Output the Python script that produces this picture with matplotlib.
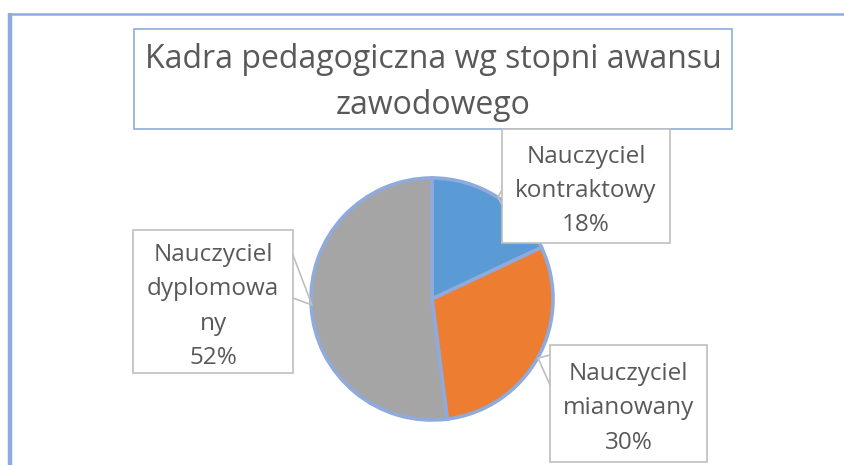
import matplotlib
matplotlib.use("Agg")
import matplotlib.pyplot as plt
from matplotlib.patches import Rectangle

categories = ["Nauczyciel kontraktowy", "Nauczyciel mianowany", "Nauczyciel dyplomowany"]
values = [18, 30, 52]
label_texts = ["Nauczyciel\nkontraktowy", "Nauczyciel\nmianowany", "Nauczyciel\ndyplomowa\nny"]
colors = ["#5B9BD5", "#ED7D31", "#A5A5A5"]
title = "Kadra pedagogiczna wg stopni awansu\nzawodowego"

W, H = 845, 465
fig = plt.figure(figsize=(W / 100, H / 100), dpi=100)
ax = fig.add_axes([0, 0, 1, 1])

FONT = ["Open Sans", "DejaVu Sans"]
TXT = "#595959"
BLUE = "#8FAADC"

# pie (y-axis inverted -> counterclock=True draws clockwise on screen)
cx, cy, r = 432, 299, 121
ax.pie(values, colors=colors, startangle=-90, counterclock=True,
       center=(cx, cy), radius=r, frame=True,
       wedgeprops=dict(edgecolor=BLUE, linewidth=2.6))
ax.set_xlim(0, W)
ax.set_ylim(H, 0)
ax.axis("off")

# outer chart border (cropped)
ax.plot([10, 10], [13, H + 5], color=BLUE, lw=3.2, solid_capstyle="butt", zorder=1)
ax.plot([9, W + 5], [14, 14], color=BLUE, lw=1.8, solid_capstyle="butt", zorder=1)

# title box
ax.add_patch(Rectangle((134, 29), 598, 100, facecolor="white", edgecolor=BLUE, lw=1.2, zorder=3))
ax.text(433, 82, title, ha="center", va="center", fontsize=23, color=TXT,
        family=FONT, linespacing=1.52, zorder=4)

# data label callouts
boxes = [(502, 129, 168, 114), (550, 345, 157, 117), (133, 230, 160, 143)]
tips = [((498, 197), (502, 190), (502, 205)),
        ((538, 358), (550, 355), (550, 385)),
        ((312, 305), (293, 255), (293, 298))]
for (bx, by, bw, bh), txt, v, tip in zip(boxes, label_texts, values, tips):
    ax.add_patch(Rectangle((bx, by), bw, bh, facecolor="white", edgecolor="#BFBFBF", lw=1.2, zorder=5))
    (tx, ty), p1, p2 = tip
    ax.plot([p1[0], tx, p2[0]], [p1[1], ty, p2[1]], color="#BFBFBF", lw=1.2, zorder=5)
    ax.text(bx + bw / 2, by + bh / 2 + 5, f"{txt}\n{v}%", ha="center", va="center",
            fontsize=17.5, color=TXT, family=FONT, linespacing=1.58, zorder=6)

fig.savefig("out.png", dpi=100, facecolor="white")
